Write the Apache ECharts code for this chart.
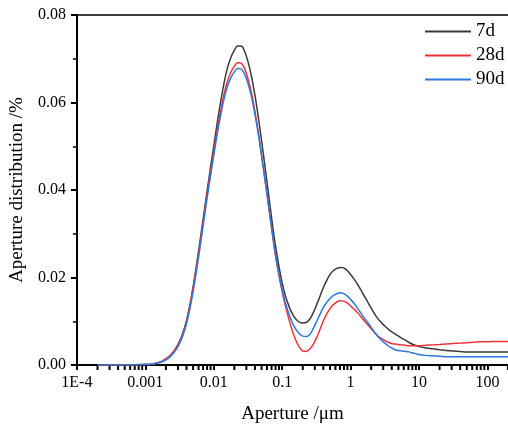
<!DOCTYPE html>
<html>
<head>
<meta charset="utf-8">
<script src="https://cdn.jsdelivr.net/npm/echarts@6/dist/echarts.min.js"></script>
<style>html,body{margin:0;padding:0;background:#fff;}#c{width:508px;height:429px;}</style>
</head>
<body>
<div id="c"></div>
<script>
// ---- data (aperture in µm, distribution in %) ----
var apertures = [0.0002, 0.0005,
  0.001, 0.00112, 0.00126, 0.00141, 0.00158, 0.00178, 0.002, 0.00224, 0.00251, 0.00282,
  0.00316, 0.00355, 0.00398, 0.00447, 0.00501, 0.00562, 0.00631, 0.00708, 0.00794, 0.00891,
  0.01, 0.0112, 0.0126, 0.0141, 0.0158, 0.0178, 0.02, 0.0224, 0.0251, 0.0282,
  0.0316, 0.0355, 0.0398, 0.0447, 0.0501, 0.0562, 0.0631, 0.0708, 0.0794, 0.0891,
  0.1, 0.112, 0.126, 0.141, 0.158, 0.178, 0.2, 0.224, 0.251, 0.282,
  0.316, 0.355, 0.398, 0.447, 0.501, 0.562, 0.631, 0.708, 0.794, 0.891,
  1, 1.12, 1.26, 1.41, 1.58, 1.78, 2, 2.24, 2.51, 2.82,
  3.16, 3.55, 3.98, 4.47, 5.01, 5.62, 6.31, 7.08, 7.94, 8.91,
  10, 12.6, 15.8, 20, 25.1, 31.6, 39.8, 50.1, 63.1, 79.4, 100, 126, 158, 200];
var d7 = [0, 0,
  0.0001, 0.0001, 0.0002, 0.0004, 0.0006, 0.0009, 0.0014, 0.0020, 0.0028, 0.0039,
  0.0054, 0.0074, 0.0100, 0.0136, 0.0180, 0.0230, 0.0284, 0.0339, 0.0394, 0.0448,
  0.0500, 0.0552, 0.0601, 0.0643, 0.0678, 0.0703, 0.0719, 0.0729, 0.0729, 0.0717,
  0.0694, 0.0661, 0.0619, 0.0568, 0.0512, 0.0453, 0.0392, 0.0331, 0.0275, 0.0228,
  0.0188, 0.0157, 0.0134, 0.0117, 0.0105, 0.0098, 0.0096, 0.0097, 0.0104, 0.0118,
  0.0136, 0.0156, 0.0176, 0.0193, 0.0207, 0.0216, 0.0221, 0.0223, 0.0222, 0.0216,
  0.0207, 0.0197, 0.0185, 0.0172, 0.0158, 0.0144, 0.0130, 0.0117, 0.0106, 0.0097,
  0.0089, 0.0082, 0.0076, 0.0071, 0.0066, 0.0061, 0.0057, 0.0052, 0.0048, 0.0045,
  0.0042, 0.0039, 0.0037, 0.0035, 0.0033, 0.0032, 0.0031, 0.0030, 0.0030, 0.0030, 0.0030, 0.0030, 0.0030, 0.0030];
var d28 = [0, 0,
  0.0001, 0.0001, 0.0002, 0.0004, 0.0006, 0.0009, 0.0014, 0.0020, 0.0028, 0.0039,
  0.0053, 0.0072, 0.0098, 0.0134, 0.0176, 0.0225, 0.0277, 0.0331, 0.0385, 0.0437,
  0.0487, 0.0536, 0.0580, 0.0618, 0.0648, 0.0669, 0.0683, 0.0691, 0.0690, 0.0678,
  0.0655, 0.0623, 0.0582, 0.0534, 0.0480, 0.0424, 0.0366, 0.0308, 0.0253, 0.0207,
  0.0168, 0.0134, 0.0104, 0.0078, 0.0057, 0.0041, 0.0032, 0.0031, 0.0036, 0.0046,
  0.0061, 0.0080, 0.0100, 0.0116, 0.0129, 0.0138, 0.0144, 0.0147, 0.0146, 0.0142,
  0.0135, 0.0128, 0.0120, 0.0111, 0.0101, 0.0092, 0.0083, 0.0074, 0.0066, 0.0060,
  0.0056, 0.0052, 0.0049, 0.0048, 0.0047, 0.0046, 0.0045, 0.0044, 0.0044, 0.0044,
  0.0044, 0.0045, 0.0046, 0.0047, 0.0048, 0.0049, 0.0050, 0.0051, 0.0052, 0.0053, 0.0053, 0.0054, 0.0054, 0.0054];
var d90 = [0, 0,
  0.0001, 0.0001, 0.0002, 0.0003, 0.0005, 0.0008, 0.0012, 0.0017, 0.0025, 0.0035,
  0.0049, 0.0068, 0.0093, 0.0128, 0.0169, 0.0217, 0.0269, 0.0324, 0.0378, 0.0429,
  0.0478, 0.0526, 0.0570, 0.0607, 0.0636, 0.0657, 0.0670, 0.0678, 0.0677, 0.0665,
  0.0644, 0.0614, 0.0575, 0.0529, 0.0477, 0.0422, 0.0366, 0.0309, 0.0256, 0.0211,
  0.0172, 0.0141, 0.0116, 0.0097, 0.0082, 0.0072, 0.0066, 0.0065, 0.0069, 0.0082,
  0.0098, 0.0115, 0.0131, 0.0143, 0.0152, 0.0159, 0.0163, 0.0165, 0.0163, 0.0158,
  0.0150, 0.0141, 0.0130, 0.0119, 0.0108, 0.0097, 0.0086, 0.0075, 0.0065, 0.0057,
  0.0050, 0.0044, 0.0039, 0.0035, 0.0033, 0.0032, 0.0031, 0.0030, 0.0028, 0.0026,
  0.0024, 0.0022, 0.0021, 0.0020, 0.0019, 0.0019, 0.0019, 0.0019, 0.0019, 0.0019, 0.0019, 0.0019, 0.0019, 0.0019];
var seriesNames = ['7d', '28d', '90d'];
var majorTicks = [0.0001, 0.001, 0.01, 0.1, 1, 10, 100];
var tickLabels = ['1E-4', '0.001', '0.01', '0.1', '1', '10', '100'];
var minorSteps = [2, 3, 4, 5, 6, 7, 8, 9];

// ---- build ----
var minorTicks = [];
majorTicks.forEach(function (d) {
  minorSteps.forEach(function (k) { var v = +(d * k).toPrecision(6); if (v <= 200) minorTicks.push([v, 0]); });
});
function pairs(ys) { return apertures.map(function (x, i) { return [x, ys[i]]; }); }
var FONT = 'Liberation Serif';
var colors = ['#3a3a3a', '#ec3338', '#2a78de'];
var XMIN = 0.0001, XMAX = 200;

var chart = echarts.init(document.getElementById('c'), null, { renderer: 'canvas' });
chart.setOption({
  animation: false,
  backgroundColor: '#fff',
  color: colors,
  grid: { left: 75, right: 0, top: 15, bottom: 63 },
  legend: {
    orient: 'vertical', left: 420, top: 17,
    itemWidth: 46, itemHeight: 2, icon: 'rect', itemGap: 5,
    textStyle: { fontFamily: FONT, fontSize: 19, color: '#000' },
    data: seriesNames
  },
  xAxis: [{
    type: 'log', logBase: 10, min: XMIN, max: XMAX, position: 'bottom',
    name: 'Aperture /μm', nameLocation: 'middle', nameGap: 40,
    nameTextStyle: { fontFamily: FONT, fontSize: 19, color: '#000' },
    axisLine: { show: true, onZero: false, lineStyle: { color: '#000', width: 2 } },
    axisTick: { show: true, length: 5, lineStyle: { color: '#000', width: 2 }, customValues: majorTicks },
    axisLabel: {
      customValues: majorTicks, fontFamily: FONT, fontSize: 16, color: '#000', margin: 10,
      formatter: function (v) {
        for (var i = 0; i < majorTicks.length; i++) if (Math.abs(Math.log10(v) - Math.log10(majorTicks[i])) < 1e-6) return tickLabels[i];
        return '';
      }
    },
    splitLine: { show: false }, minorTick: { show: false }
  }, {
    type: 'log', logBase: 10, min: XMIN, max: XMAX, position: 'top',
    axisLine: { show: true, onZero: false, lineStyle: { color: '#000', width: 1.5 } },
    axisTick: { show: false }, axisLabel: { show: false }, splitLine: { show: false }
  }],
  yAxis: {
    type: 'value', min: 0, max: 0.08, interval: 0.02,
    name: 'Aperture distribution /%', nameLocation: 'middle', nameGap: 46,
    nameTextStyle: { fontFamily: FONT, fontSize: 19, color: '#000' },
    axisLine: { show: true, lineStyle: { color: '#000', width: 2 } },
    axisTick: { show: true, length: 6, lineStyle: { color: '#000', width: 2 } },
    minorTick: { show: true, splitNumber: 2, length: 4, lineStyle: { color: '#000', width: 1.5 } },
    axisLabel: { fontFamily: FONT, fontSize: 16, color: '#000', margin: 11,
      formatter: function (v) { return v.toFixed(2); } },
    splitLine: { show: false }
  },
  series: [
    { name: seriesNames[0], type: 'line', data: pairs(d7), symbol: 'none', smooth: 0.4, lineStyle: { width: 1.5, color: colors[0] }, itemStyle: { color: colors[0] } },
    { name: seriesNames[1], type: 'line', data: pairs(d28), symbol: 'none', smooth: 0.4, lineStyle: { width: 1.5, color: colors[1] }, itemStyle: { color: colors[1] } },
    { name: seriesNames[2], type: 'line', data: pairs(d90), symbol: 'none', smooth: 0.4, lineStyle: { width: 1.5, color: colors[2] }, itemStyle: { color: colors[2] } },
    { name: 'minorTicks', type: 'scatter', data: minorTicks, symbol: 'rect', symbolSize: [2, 4],
      symbolOffset: [0, 3], clip: false, silent: true, z: 5,
      itemStyle: { color: '#000', opacity: 1 }, emphasis: { disabled: true }, tooltip: { show: false } }
  ]
});
</script>
</body>
</html>
